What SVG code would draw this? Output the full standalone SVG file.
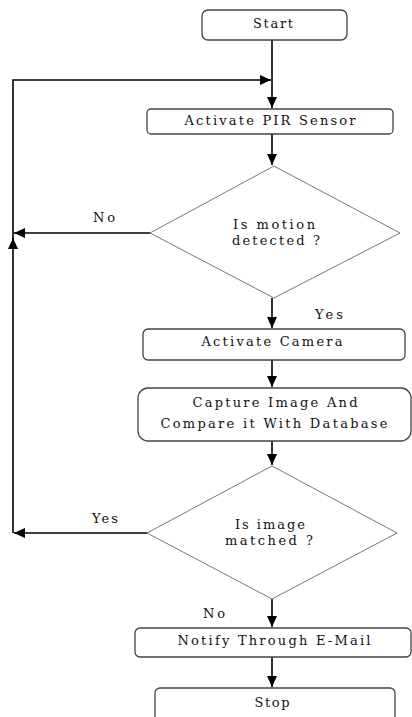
<svg xmlns="http://www.w3.org/2000/svg" width="412" height="717" viewBox="0 0 412 717">
<style>
.box{fill:#fff;stroke:#444;stroke-width:1.3}
.dia{fill:#fff;stroke:#777;stroke-width:1}
.t{font-family:"DejaVu Serif","Liberation Serif",serif;font-size:13px;fill:#111;text-anchor:middle}
.c{fill:none;stroke:#000;stroke-width:1.6}
</style>
<defs>
<marker id="ah" markerUnits="userSpaceOnUse" markerWidth="12" markerHeight="10" refX="11" refY="5" orient="auto">
<path d="M0,0 L11,5 L0,10 Z" fill="#000"/>
</marker>
</defs>
<rect width="412" height="717" fill="#fff"/>
<g id="connectors">
<path class="c" d="M272,40 V108" marker-end="url(#ah)"/>
<path class="c" d="M13,240 V80 H271" marker-end="url(#ah)"/>
<path class="c" d="M272,134 V165" marker-end="url(#ah)"/>
<path class="c" d="M150,233 H14" marker-end="url(#ah)"/>
<path class="c" d="M13,533 V238" marker-end="url(#ah)"/>
<path class="c" d="M272,298 V328" marker-end="url(#ah)"/>
<path class="c" d="M272,360 V387" marker-end="url(#ah)"/>
<path class="c" d="M272,441 V465" marker-end="url(#ah)"/>
<path class="c" d="M147,533 H14" marker-end="url(#ah)"/>
<path class="c" d="M272,599 V627" marker-end="url(#ah)"/>
<path class="c" d="M272,657 V687" marker-end="url(#ah)"/>
<text class="t" x="104" y="222" textLength="22" lengthAdjust="spacing">No</text>
<text class="t" x="329" y="319" textLength="28" lengthAdjust="spacing">Yes</text>
<text class="t" x="105" y="523" textLength="26" lengthAdjust="spacing">Yes</text>
<text class="t" x="214" y="618" textLength="22" lengthAdjust="spacing">No</text>
</g>
<g id="start">
<rect class="box" x="202" y="10" width="145" height="30" rx="6"/>
<text class="t" x="273" y="28" textLength="40" lengthAdjust="spacing">Start</text>
</g>
<g id="pir">
<rect class="box" x="147" y="109" width="246" height="25" rx="4"/>
<text class="t" x="270" y="125" textLength="171" lengthAdjust="spacing">Activate PIR Sensor</text>
</g>
<g id="motion">
<polygon class="dia" points="274,166 400,233 274,298 150,233"/>
<text class="t" x="274" y="229" textLength="82" lengthAdjust="spacing">Is motion</text>
<text class="t" x="276" y="245" textLength="88" lengthAdjust="spacing">detected ?</text>
</g>
<g id="camera">
<rect class="box" x="143" y="329" width="262" height="31" rx="5"/>
<text class="t" x="272" y="346" textLength="141" lengthAdjust="spacing">Activate Camera</text>
</g>
<g id="capture">
<rect class="box" x="138" y="388" width="273" height="53" rx="10"/>
<text class="t" x="275" y="407" textLength="165" lengthAdjust="spacing">Capture Image And</text>
<text class="t" x="274" y="428" textLength="227" lengthAdjust="spacing">Compare it With Database</text>
</g>
<g id="matched">
<polygon class="dia" points="272,466 397,533 272,599 147,533"/>
<text class="t" x="270" y="529" textLength="70" lengthAdjust="spacing">Is image</text>
<text class="t" x="269" y="545" textLength="88" lengthAdjust="spacing">matched ?</text>
</g>
<g id="notify">
<rect class="box" x="135" y="628" width="276" height="29" rx="5"/>
<text class="t" x="274" y="645" textLength="193" lengthAdjust="spacing">Notify Through E-Mail</text>
</g>
<g id="stop">
<rect class="box" x="155" y="688" width="240" height="40" rx="5"/>
<text class="t" x="272" y="707" textLength="35" lengthAdjust="spacing">Stop</text>
</g>
</svg>
